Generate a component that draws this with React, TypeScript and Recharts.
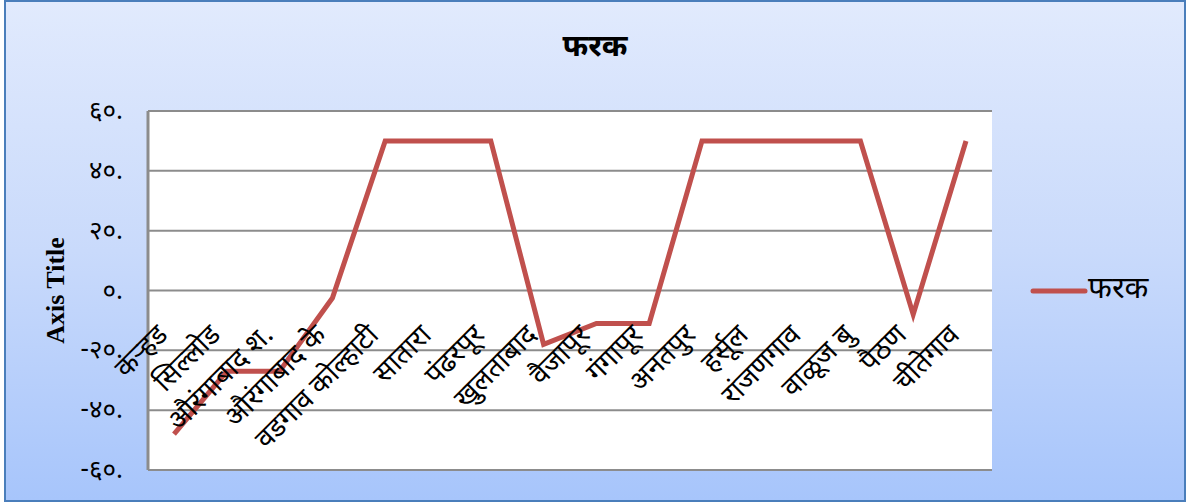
import React from "react";
import {
  LineChart,
  Line,
  XAxis,
  YAxis,
  CartesianGrid,
  Legend,
  Label,
} from "recharts";

// data
const places = [
  "कऱ्हड",
  "सिल्लोड",
  "औरंगाबाद श.",
  "औरंगाबाद के",
  "वडगाव कोल्हाटी",
  "सातारा",
  "पंढरपूर",
  "खुलताबाद",
  "वैजापूर",
  "गंगापूर",
  "अनतपुर",
  "हर्सूल",
  "रांजणगाव",
  "वाळूज बु",
  "पैठण",
  "चीतेगाव",
];
const farak = [-48, -27, -27, -2.5, 50, 50, 50, -18, -11, -11, 50, 50, 50, 50, -8, 50];
const yTicks = [-60, -40, -20, 0, 20, 40, 60];
const yTickLabels = ["-६०.", "-४०.", "-२०.", "०.", "२०.", "४०.", "६०."];

const seriesName = "फरक";
const chartTitle = "फरक";
const yTitle = "Axis Title";

const data = places.map((name, i) => ({ name, value: farak[i] }));

const W = 1186;
const H = 504;
const PLOT_TOP = 111;
const PLOT_BOTTOM = 470;
const ZERO_Y = (PLOT_TOP + PLOT_BOTTOM) / 2;
const DEVA = "'Noto Sans Devanagari', Mangal, 'Noto Sans', sans-serif";

const XTick = (props: any) => {
  const { x, payload } = props;
  const ax = x - 5;
  const ay = ZERO_Y + 46;
  return (
    <text
      x={ax}
      y={ay}
      transform={`rotate(-45 ${ax} ${ay})`}
      textAnchor="end"
      fontSize={28}
      fontFamily={DEVA}
      fill="#000"
    >
      {payload.value}
    </text>
  );
};

const YTick = (props: any) => {
  const { x, y, payload } = props;
  const idx = yTicks.indexOf(payload.value);
  return (
    <text
      x={x}
      y={y}
      dy={8}
      textAnchor="end"
      fontSize={26}
      fontFamily={DEVA}
      fill="#000"
    >
      {yTickLabels[idx]}
    </text>
  );
};

const LegendBox = () => (
  <div style={{ display: "flex", alignItems: "center" }}>
    <svg width={58} height={10}>
      <line x1={3} y1={5} x2={55} y2={5} stroke="#C0504D" strokeWidth={5} strokeLinecap="round" />
    </svg>
    <span style={{ fontFamily: DEVA, fontSize: 31, color: "#000", lineHeight: "36px" }}>{seriesName}</span>
  </div>
);

export default function App() {
  return (
    <div style={{ position: "absolute", left: 0, top: 0, width: W, height: H, background: "#fff" }}>
      <div
        style={{
          position: "absolute",
          left: 4,
          top: 0,
          width: W - 4,
          height: H - 2,
          boxSizing: "border-box",
          border: "2px solid #4A7EBB",
          background: "linear-gradient(to bottom, #E1EAFD 0%, #C9DAFB 50%, #A7C5FB 100%)",
        }}
      />
      <div
        style={{
          position: "absolute",
          left: 0,
          top: 28,
          width: W + 4,
          textAlign: "center",
          fontFamily: DEVA,
          fontWeight: "bold",
          fontSize: 31,
          color: "#000",
        }}
      >
        {chartTitle}
      </div>
      <div style={{ position: "absolute", left: 0, top: 0 }}>
        <LineChart
          width={W}
          height={H}
          data={data}
          margin={{ top: PLOT_TOP, right: 194, bottom: 4, left: 0 }}
        >
          <CartesianGrid
            vertical={false}
            stroke="#8C8C8C"
            strokeWidth={2}
            fill="#fff"
            fillOpacity={1}
          />
          <XAxis
            dataKey="name"
            interval={0}
            axisLine={false}
            tickLine={false}
            height={30}
            padding={{ left: 26, right: 26 }}
            tick={<XTick />}
          />
          <YAxis
            width={148}
            domain={[-60, 60]}
            ticks={yTicks}
            tickLine={false}
            tickSize={0}
            tickMargin={25}
            axisLine={{ stroke: "#8C8C8C", strokeWidth: 3 }}
            tick={<YTick />}
          >
            <Label
              content={() => (
                <text
                  x={64}
                  y={ZERO_Y}
                  transform={`rotate(-90 64 ${ZERO_Y})`}
                  textAnchor="middle"
                  fontFamily="'Liberation Serif', 'Times New Roman', serif"
                  fontWeight="bold"
                  fontSize={26}
                  fill="#000"
                >
                  {yTitle}
                </text>
              )}
            />
          </YAxis>
          <Legend
            layout="horizontal"
            verticalAlign="middle"
            align="center"
            content={<LegendBox />}
            wrapperStyle={{ position: "absolute", left: 1030, top: 273, width: 150 }}
          />
          <Line
            type="linear"
            dataKey="value"
            name={seriesName}
            stroke="#C0504D"
            strokeWidth={5}
            dot={false}
            isAnimationActive={false}
          />
        </LineChart>
      </div>
    </div>
  );
}
